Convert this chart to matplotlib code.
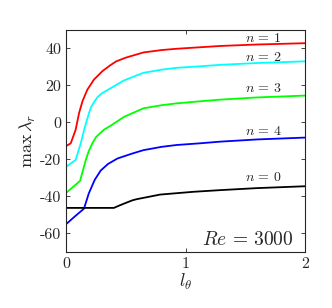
import matplotlib
matplotlib.use('Agg')
import matplotlib.pyplot as plt

plt.rcParams['font.family'] = 'serif'
plt.rcParams['font.serif'] = ['cmr10']
plt.rcParams['mathtext.fontset'] = 'cm'
plt.rcParams['axes.unicode_minus'] = False

# curves, one per azimuthal mode n
l_n1 = [0, 0.039, 0.08, 0.109, 0.137, 0.178, 0.234, 0.304, 0.368, 0.42, 0.5, 0.647, 0.8, 0.926, 1.12, 1.289, 1.6, 2.0]
v_n1 = [-12.8, -11.3, -4, 5.1, 11.4, 17.7, 23.2, 27.7, 30.8, 33, 35, 37.8, 39.1, 39.8, 40.6, 41.3, 42.1, 42.8]

l_n2 = [0, 0.08, 0.123, 0.151, 0.165, 0.192, 0.21, 0.234, 0.265, 0.304, 0.368, 0.485, 0.647, 0.8, 0.926, 1.12, 1.289, 1.6, 2.0]
v_n2 = [-24, -20.3, -11.3, -4, -0.8, 5.1, 8.3, 11, 13.8, 15.9, 18.3, 22.7, 26.8, 28.5, 29.5, 30.3, 31.1, 32.1, 33]

l_n3 = [0, 0.117, 0.165, 0.19, 0.22, 0.25, 0.29, 0.32, 0.368, 0.485, 0.555, 0.647, 0.8, 0.926, 1.12, 1.289, 1.6, 2.0]
v_n3 = [-38.1, -31.6, -20.3, -15.5, -11.3, -8, -5.5, -3.8, -2, 3, 5, 7.6, 9.3, 10.3, 11.4, 12.3, 13.5, 14.5]

l_n4 = [0, 0.07, 0.15, 0.19, 0.24, 0.29, 0.35, 0.43, 0.555, 0.647, 0.8, 0.926, 1.12, 1.289, 1.6, 2.0]
v_n4 = [-55, -51, -46.6, -38.4, -31, -26, -22.5, -19.5, -16.8, -15, -13.2, -12.2, -11.3, -10.4, -9.2, -8.2]

l_n0 = [0, 0.40, 0.45, 0.5, 0.555, 0.59, 0.787, 1.065, 1.289, 1.6, 2.0]
v_n0 = [-46.2, -46.2, -44.8, -43.5, -42.1, -41.5, -39, -37.5, -36.6, -35.5, -34.5]

labels = [r'$n\,=\,1$', r'$n\,=\,2$', r'$n\,=\,3$', r'$n\,=\,4$', r'$n\,=\,0$']
label_y = [45.4, 34.9, 18.3, -4.9, -29.9]

x_ticks = [0, 1, 2]
y_ticks = [-60, -40, -20, 0, 20, 40]
y_ticklabels = ['-60', '-40', '-20', '0', '20', '40']

fig = plt.figure(figsize=(3.32, 3.08), dpi=100)
ax = fig.add_axes([0.199, 0.182, 0.720, 0.721])

curves = [(l_n1, v_n1, 'red'), (l_n2, v_n2, 'cyan'), (l_n3, v_n3, 'lime'),
          (l_n4, v_n4, 'blue'), (l_n0, v_n0, 'black')]
for (lx, vy, c) in curves:
    ax.plot(lx, vy, color=c, lw=1.3)

for lab, yy in zip(labels, label_y):
    ax.text(1.65, yy, lab, ha='center', va='center', fontsize=10, color='#262626')

ax.text(1.9, -63.6, r'$Re\,=\,3000$', ha='right', va='center', fontsize=14, color='#262626')

ax.set_xlim(0, 2)
ax.set_ylim(-70, 50)
ax.set_xticks(x_ticks)
ax.set_xticklabels([str(t) for t in x_ticks])
ax.set_yticks(y_ticks)
ax.set_yticklabels(y_ticklabels)
ax.tick_params(direction='in', top=True, right=True, length=3, width=0.6,
               labelsize=11.5, colors='#262626')
for s in ax.spines.values():
    s.set_linewidth(0.8)
    s.set_color('#262626')

ax.set_xlabel(r'$l_\theta$', fontsize=13, color='#262626', labelpad=1)
ax.set_ylabel(r'$\max\,\lambda_r$', fontsize=13, color='#262626', labelpad=1)

fig.savefig('out.png', dpi=100)
